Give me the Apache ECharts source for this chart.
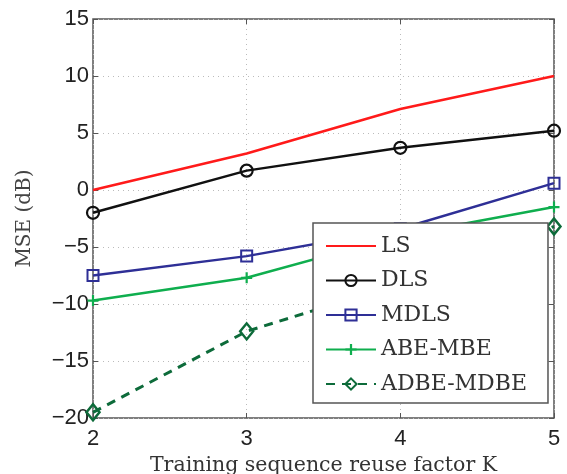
<!DOCTYPE html>
<html>
<head>
<meta charset="utf-8">
<script src="https://cdn.jsdelivr.net/npm/echarts@6/dist/echarts.min.js"></script>
<style>
  html, body { margin: 0; padding: 0; background: #fff; }
  #chart { width: 567px; height: 474px; }
</style>
</head>
<body>
<div id="chart"></div>
<script>
// Training sequence reuse factor K
const kValues = [2, 3, 4, 5];

// MSE (dB) for each estimator
const lsMse = [0.0, 3.2, 7.1, 10.0];
const dlsMse = [-2.0, 1.7, 3.7, 5.2];
const mdlsMse = [-7.5, -5.8, -3.4, 0.6];
const abeMbeMse = [-9.7, -7.7, -4.0, -1.5];
const adbeMdbeMse = [-19.5, -12.4, -8.2, -3.2];

const yTicks = { min: -20, max: 15, step: 5 };
const xTicks = { min: 2, max: 5, step: 1 };

const serifFont = 'DejaVu Serif';
const sansFont = 'Liberation Sans, Arial, sans-serif';

const pairs = (ys) => kValues.map((k, i) => [k, ys[i]]);

const plusPath = 'path://M4,0H6V4H10V6H6V10H4V6H0V4H4Z';

const chart = echarts.init(document.getElementById('chart'), null, { renderer: 'canvas' });

const tickStyle = { show: true, inside: true, length: 5, lineStyle: { color: '#555', width: 1 } };

// mirrored axes on the top and right edges carry only inward ticks
const hiddenAxis = {
  axisLabel: { show: false },
  splitLine: { show: false },
  axisLine: { show: false, onZero: false },
  axisTick: tickStyle
};

chart.setOption({
  backgroundColor: '#fff',
  animation: false,
  grid: {
    left: 93, right: 13, top: 19, bottom: 56,
    containLabel: false,
    outerBoundsMode: 'none',
    show: true, borderColor: '#555', borderWidth: 1.5, backgroundColor: '#fff'
  },
  xAxis: [{
    type: 'value', position: 'bottom', min: xTicks.min, max: xTicks.max, interval: xTicks.step,
    name: 'Training sequence reuse factor K',
    nameLocation: 'middle', nameGap: 36,
    nameTextStyle: { fontFamily: serifFont, fontSize: 20.5, color: '#333' },
    axisLine: { show: false, onZero: false },
    axisTick: tickStyle,
    axisLabel: { fontFamily: sansFont, fontSize: 22, color: '#222', margin: 10 },
    splitLine: { show: true, lineStyle: { color: '#bbb', type: [1, 4], width: 1 } }
  }, Object.assign({ type: 'value', position: 'top', min: xTicks.min, max: xTicks.max, interval: xTicks.step }, hiddenAxis)],
  yAxis: [{
    type: 'value', position: 'left', min: yTicks.min, max: yTicks.max, interval: yTicks.step,
    name: 'MSE (dB)',
    nameLocation: 'middle', nameGap: 58,
    nameTextStyle: { fontFamily: serifFont, fontSize: 20, color: '#444' },
    axisLine: { show: false, onZero: false },
    axisTick: tickStyle,
    axisLabel: {
      fontFamily: sansFont, fontSize: 22, color: '#222', margin: 4,
      formatter: (v) => (v < 0 ? '\u2212' + Math.abs(v) : String(v))
    },
    splitLine: { show: true, lineStyle: { color: '#bbb', type: [1, 4], width: 1 } }
  }, Object.assign({ type: 'value', position: 'right', min: yTicks.min, max: yTicks.max, interval: yTicks.step }, hiddenAxis)],
  legend: {
    orient: 'vertical',
    left: 313, top: 223,
    padding: [11, 21, 7, 12],
    itemGap: 10.5,
    itemWidth: 50, itemHeight: 14,
    backgroundColor: '#fff',
    borderColor: '#555', borderWidth: 1.5, borderRadius: 0,
    textStyle: { fontFamily: serifFont, fontSize: 22, lineHeight: 24, color: '#333' },
    data: [
      { name: 'LS', itemStyle: { opacity: 0 } },
      'DLS', 'MDLS', 'ABE-MBE', 'ADBE-MDBE'
    ]
  },
  series: [
    {
      name: 'LS', type: 'line', data: pairs(lsMse),
      symbol: 'none', color: '#ff1a1a',
      lineStyle: { color: '#ff1a1a', width: 2.5 }
    },
    {
      name: 'DLS', type: 'line', data: pairs(dlsMse),
      symbol: 'circle', symbolSize: 12,
      color: '#111',
      itemStyle: { color: 'rgba(0,0,0,0)', borderColor: '#111', borderWidth: 2.2 },
      lineStyle: { color: '#111', width: 2.5 }
    },
    {
      name: 'MDLS', type: 'line', data: pairs(mdlsMse),
      symbol: 'rect', symbolSize: 11,
      color: '#2e2f96',
      itemStyle: { color: 'rgba(0,0,0,0)', borderColor: '#2e2f96', borderWidth: 2 },
      lineStyle: { color: '#2e2f96', width: 2.5 }
    },
    {
      name: 'ABE-MBE', type: 'line', data: pairs(abeMbeMse),
      symbol: plusPath, symbolSize: 11,
      color: '#0fae4e',
      itemStyle: { color: '#0fae4e' },
      lineStyle: { color: '#0fae4e', width: 2.5 }
    },
    {
      name: 'ADBE-MDBE', type: 'line', data: pairs(adbeMdbeMse),
      symbol: 'diamond', symbolSize: [13, 16],
      color: '#0d6b3a',
      itemStyle: { color: 'rgba(0,0,0,0)', borderColor: '#0d6b3a', borderWidth: 2.5 },
      lineStyle: { color: '#0d6b3a', width: 3, type: [9, 7] }
    }
  ]
});
</script>
</body>
</html>
